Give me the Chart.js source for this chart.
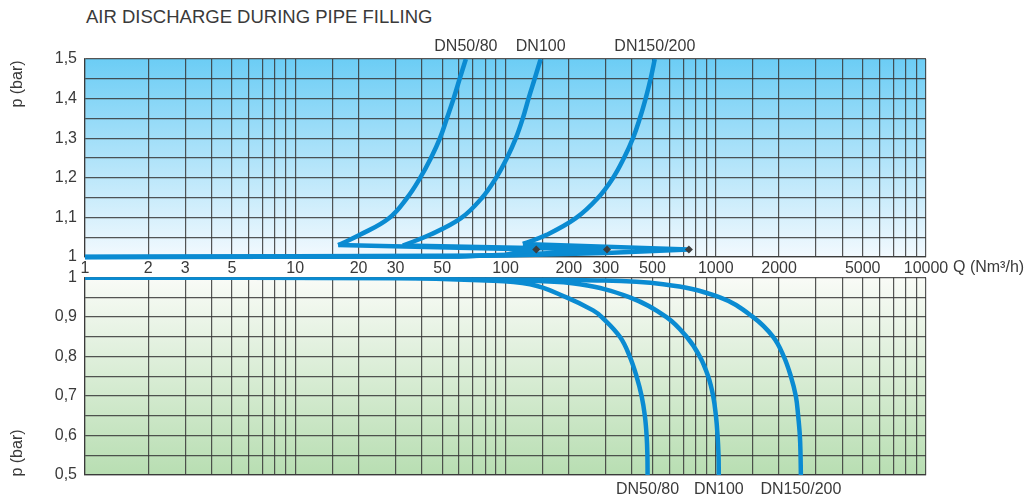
<!DOCTYPE html>
<html>
<head>
<meta charset="utf-8">
<script src="https://cdn.jsdelivr.net/npm/chart.js@4"></script>
<style>
  body { margin: 0; background: #fff; width: 1024px; height: 500px; position: relative; overflow: hidden; font-family: "Liberation Sans", Arial, sans-serif; }
  #title { position: absolute; left: 86px; top: 6px; font-size: 18.5px; color: #3a3a3a; }
  #top-chart { position: absolute; left: 0; top: 0; }
  #bottom-chart { position: absolute; left: 0; top: 260px; }
</style>
</head>
<body>
<div id="title">AIR DISCHARGE DURING PIPE FILLING</div>
<canvas id="top-chart" width="1024" height="280"></canvas>
<canvas id="bottom-chart" width="1024" height="240"></canvas>
<script>
// Data (Q in Nm3/h, p in bar)
let curveNames = ['DN50/80', 'DN100', 'DN150/200'];

// filling (p > 1): run along p=1 out to the marker, then back to the tip
let loopQ50 = [1, 60, 100, 140, 16];
let loopP50 = [1.0, 1.001, 1.006, 1.019, 1.03];
let loopQ100 = [1, 60, 110, 200, 304, 32.5];
let loopP100 = [1.0, 1.001, 1.006, 1.012, 1.019, 1.029];
let loopQ150 = [1, 100, 300, 745, 121];
let loopP150 = [1.0, 1.004, 1.010, 1.019, 1.033];

// filling: rise from the tip up to 1,5 bar
let riseQ50 = [16, 20.3, 27.9, 34.0, 39.2, 44.2, 48.8, 52.7, 56.8, 60.7, 64.8];
let riseQ100 = [32.5, 43.7, 61.4, 77.2, 90, 101.6, 112, 121, 129, 138, 147];
let riseQ150 = [121, 157, 216, 275, 324, 366, 404, 436, 465, 491, 513];
let riseP50 = [1.03, 1.056, 1.098, 1.149, 1.199, 1.25, 1.30, 1.351, 1.402, 1.452, 1.5];
let riseP100 = [1.029, 1.056, 1.098, 1.149, 1.199, 1.25, 1.30, 1.351, 1.402, 1.452, 1.5];
let riseP150 = [1.033, 1.056, 1.098, 1.149, 1.199, 1.25, 1.30, 1.351, 1.402, 1.452, 1.5];

let markerQ = [140, 304, 745];
let markerP = [1.019, 1.019, 1.019];

// draining (p < 1)
let drainQ50 = [1, 30, 75, 131, 195, 261, 287, 350, 390, 420, 444, 460, 469, 473, 474];
let drainP50 = [1.0, 0.999, 0.993, 0.983, 0.95, 0.917, 0.9, 0.85, 0.8, 0.75, 0.7, 0.65, 0.6, 0.55, 0.5];
let drainQ100 = [1, 50, 131, 226, 390, 583, 727, 840, 920, 972, 1002, 1020, 1031, 1034];
let drainP100 = [1.0, 0.999, 0.992, 0.983, 0.95, 0.9, 0.85, 0.8, 0.75, 0.7, 0.65, 0.6, 0.55, 0.5];
let drainQ150 = [1, 80, 226, 562, 1046, 1506, 1875, 2108, 2276, 2404, 2466, 2512, 2531, 2540];
let drainP150 = [1.0, 0.999, 0.994, 0.983, 0.95, 0.9, 0.85, 0.8, 0.75, 0.7, 0.65, 0.6, 0.55, 0.5];

let qTickLabels = [1, 2, 3, 5, 10, 20, 30, 50, 100, 200, 300, 500, 1000, 2000, 5000, 10000];

const textColor = '#3a3a3a';
const lineBlue = '#0a8bd2';
const gridColor = 'rgba(55,55,55,0.85)';
const fontFamily = '"Liberation Sans", Arial, sans-serif';

function pts(q, p) {
    return q.map((v, i) => ({ x: v, y: p[i] }));
}

function curve(q, p, name, smooth) {
    return {
        label: name,
        data: pts(q, p),
        borderColor: lineBlue,
        borderWidth: 4.5,
        pointRadius: 0,
        fill: false,
        tension: smooth ? 0.4 : 0,
        clip: { left: 3, top: 0, right: 3, bottom: 4 },
        borderJoinStyle: 'round'
    };
}

function qTick(v) {
    return qTickLabels.some(t => Math.abs(t - v) < 1e-6 * t) ? String(Math.round(v)) : '';
}

function pTick(v) {
    const r = Math.round(v * 100);
    if (r % 10 !== 0) return '';
    return String(r / 100).replace('.', ',');
}

function bgPlugin(topColor, bottomColor) {
    return {
        id: 'bg',
        beforeDraw(chart) {
            const a = chart.chartArea, ctx = chart.ctx;
            const g = ctx.createLinearGradient(0, a.top, 0, a.bottom);
            g.addColorStop(0, topColor);
            g.addColorStop(1, bottomColor);
            ctx.save();
            ctx.fillStyle = g;
            ctx.fillRect(a.left, a.top, a.right - a.left, a.bottom - a.top);
            ctx.restore();
        }
    };
}

// curve names at the open end of each curve, axis titles
function textPlugin(isTop, labelled) {
    return {
        id: 'texts',
        afterDraw(chart) {
            const ctx = chart.ctx, a = chart.chartArea, xs = chart.scales.x;
            ctx.save();
            ctx.fillStyle = textColor;
            ctx.font = '16px ' + fontFamily;
            ctx.textAlign = 'center';
            ctx.textBaseline = 'middle';
            labelled.forEach(i => {
                const ds = chart.data.datasets[i];
                const last = ds.data[ds.data.length - 1];
                const px = xs.getPixelForValue(last.x);
                const py = isTop ? a.top - 12 : a.bottom + 15;
                ctx.fillText(ds.label, px, py);
            });
            if (isTop) {
                ctx.textAlign = 'left';
                ctx.fillText('Q (Nm³/h)', a.right + 27, a.bottom + 11);
            }
            ctx.translate(18, isTop ? 84 : 193);
            ctx.rotate(-Math.PI / 2);
            ctx.textAlign = 'center';
            ctx.fillText('p (bar)', 0, 0);
            ctx.restore();
        }
    };
}

function baseOptions(isTop, yMin, yMax) {
    return {
        responsive: false,
        animation: false,
        layout: { padding: { left: 0, right: 98, top: isTop ? 59 : 7, bottom: 0 } },
        plugins: { legend: { display: false }, tooltip: { enabled: false } },
        scales: {
            x: {
                type: 'logarithmic',
                min: 1,
                max: 10000,
                afterFit: s => { s.height = isTop ? 23 : 25; },
                grid: { color: gridColor, lineWidth: 1.2, drawTicks: false },
                border: { color: gridColor, width: 1.2 },
                ticks: {
                    display: isTop,
                    autoSkip: false,
                    maxRotation: 0,
                    padding: 2,
                    color: textColor,
                    font: { size: 16, family: fontFamily },
                    callback: qTick
                }
            },
            y: {
                type: 'linear',
                min: yMin,
                max: yMax,
                afterFit: s => { s.width = 85; },
                grid: { color: gridColor, lineWidth: 1.2, drawTicks: false },
                border: { color: gridColor, width: 1.2 },
                ticks: {
                    stepSize: 0.05,
                    autoSkip: false,
                    padding: 8,
                    color: textColor,
                    font: { size: 16, family: fontFamily },
                    callback: pTick
                }
            }
        }
    };
}

// Top: filling
new Chart(document.getElementById('top-chart').getContext('2d'), {
    type: 'line',
    data: {
        datasets: [
            curve(riseQ50, riseP50, curveNames[0], true),
            curve(riseQ100, riseP100, curveNames[1], true),
            curve(riseQ150, riseP150, curveNames[2], true),
            curve(loopQ50, loopP50, curveNames[0], false),
            curve(loopQ100, loopP100, curveNames[1], false),
            curve(loopQ150, loopP150, curveNames[2], false),
            {
                label: 'markers',
                data: pts(markerQ, markerP),
                pointStyle: 'rectRot',
                pointRadius: 4,
                backgroundColor: '#3d3d3d',
                borderWidth: 0,
                showLine: false,
                order: -1
            }
        ]
    },
    options: baseOptions(true, 1, 1.5),
    plugins: [bgPlugin('rgb(108,205,245)', 'rgb(242,249,254)'), textPlugin(true, [0, 1, 2])]
});

// Bottom: draining
new Chart(document.getElementById('bottom-chart').getContext('2d'), {
    type: 'line',
    data: {
        datasets: [
            curve(drainQ50, drainP50, curveNames[0], true),
            curve(drainQ100, drainP100, curveNames[1], true),
            curve(drainQ150, drainP150, curveNames[2], true)
        ]
    },
    options: baseOptions(false, 0.5, 1),
    plugins: [bgPlugin('rgb(249,251,247)', 'rgb(184,222,178)'), textPlugin(false, [0, 1, 2])]
});
</script>
</body>
</html>
